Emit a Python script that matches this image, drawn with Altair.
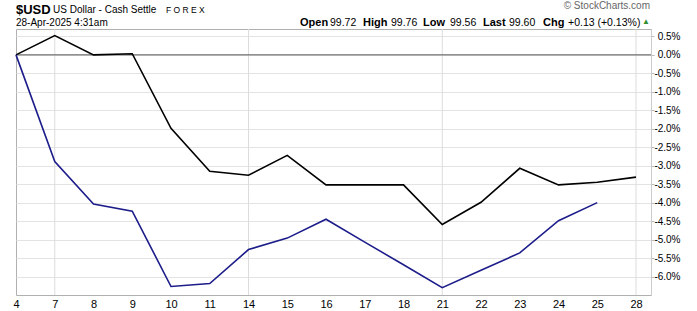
import altair as alt
import pandas as pd

# ---- data ----
days = ["4", "7", "8", "9", "10", "11", "14", "15", "16", "17", "18",
        "21", "22", "23", "24", "25", "28"]
usd_pct = [0.0, 0.52, 0.0, 0.03, -1.99, -3.15, -3.26, -2.72, -3.52, -3.52,
           -3.52, -4.59, -3.99, -3.07, -3.52, -3.45, -3.31]
cmp_pct = [0.0, -2.89, -4.04, -4.23, -6.27, -6.19, -5.27, -4.96, -4.45,
           -5.07, -5.68, -6.30, -5.83, -5.36, -4.49, -4.00, None]
week_grid_days = ["7", "14", "21", "28"]
y_ticks = [0.5, 0.0, -0.5, -1.0, -1.5, -2.0, -2.5, -3.0, -3.5, -4.0, -4.5,
           -5.0, -5.5, -6.0]

FONT = "Liberation Sans"
W, H = 635, 266

rows = []
for i, d in enumerate(days):
    rows.append({"idx": i, "day": d, "series": "$USD", "value": usd_pct[i]})
    if cmp_pct[i] is not None:
        rows.append({"idx": i, "day": d, "series": "Compare", "value": cmp_pct[i]})
df = pd.DataFrame(rows)

n = len(days)
xdom = [0, (n - 1) * W / 620]
label_arr = "[" + ",".join("'" + d + "'" for d in days) + "]"

xscale = alt.Scale(domain=xdom, nice=False, zero=False)
yscale = alt.Scale(domain=[-6.5, 0.7], nice=False, zero=False)

xaxis = alt.Axis(values=list(range(n)), labelExpr=label_arr + "[datum.value]",
                 grid=False, ticks=False, domain=False, labelPadding=3,
                 labelFontSize=11, labelFont=FONT, labelColor="#000",
                 labelFlush=False, labelOverlap=False, title=None)
yaxis = alt.Axis(orient="right", values=y_ticks, grid=True,
                 gridColor="#e3e3e3", gridWidth=1,
                 labelExpr="replace(format(datum.value, '.1f'), '\u2212', '-') + '%'",
                 labelAlign="right", labelPadding=26, tickSize=3,
                 tickColor="#bbbbbb", domainColor="#cccccc",
                 labelOverlap=False, labelFlush=False, title=None,
                 labelFontSize=10, labelFont=FONT, labelColor="#000")

lines = alt.Chart(df).mark_line(strokeWidth=1.6).encode(
    x=alt.X("idx:Q", scale=xscale, axis=xaxis),
    y=alt.Y("value:Q", scale=yscale, axis=yaxis),
    color=alt.Color("series:N", legend=None,
                    scale=alt.Scale(domain=["$USD", "Compare"],
                                    range=["#000000", "#1c1c8a"])),
)

grid_df = pd.DataFrame({"idx": [days.index(d) for d in week_grid_days]})
vgrid = alt.Chart(grid_df).mark_rule(color="#dcdcdc", strokeWidth=1).encode(
    x=alt.X("idx:Q", scale=xscale, axis=xaxis)
)

zero = alt.Chart(pd.DataFrame({"value": [0.0]})).mark_rule(color="#555555", strokeWidth=1).encode(
    y=alt.Y("value:Q", scale=yscale, axis=yaxis)
)


def txt(s, x, y, size=10, weight="normal", color="#000", align="left"):
    return alt.Chart(pd.DataFrame({"t": [s]})).mark_text(
        font=FONT, fontSize=size, fontWeight=weight, color=color,
        align=align, baseline="middle"
    ).encode(text="t:N", x=alt.value(x), y=alt.value(y))


hdr = [
    txt("$USD", 0, -19, size=13, weight="bold"),
    txt("US Dollar - Cash Settle", 37, -19, size=10),
    txt("F O R E X", 150, -19, size=8.5),
    txt("28-Apr-2025 4:31am", 0, -6, size=10),
    txt("Open", 284, -6, size=11, weight="bold"),
    txt("99.72", 314, -6, size=10.5),
    txt("High", 347, -6, size=11, weight="bold"),
    txt("99.76", 375, -6, size=10.5),
    txt("Low", 407, -6, size=11, weight="bold"),
    txt("99.56", 434, -6, size=10.5),
    txt("Last", 467, -6, size=11, weight="bold"),
    txt("99.60", 493, -6, size=10.5),
    txt("Chg", 527, -6, size=11, weight="bold"),
    txt("+0.13 (+0.13%)", 552, -6, size=10.5),
    txt("\u25b2", 630, -7, size=8, color="#2f8f2f", align="center"),
    txt("\u00a9 StockCharts.com", 634, -23, size=10, color="#666666", align="right"),
]

chart = alt.layer(vgrid, zero, lines, *hdr).properties(
    width=W, height=H, autosize="none",
    padding={"left": 16, "top": 29, "right": 46, "bottom": 16},
    background="white",
).configure_view(stroke="#b0b0b0", strokeWidth=1)

chart.save("out.html", embed_options={"renderer": "svg", "actions": False})
